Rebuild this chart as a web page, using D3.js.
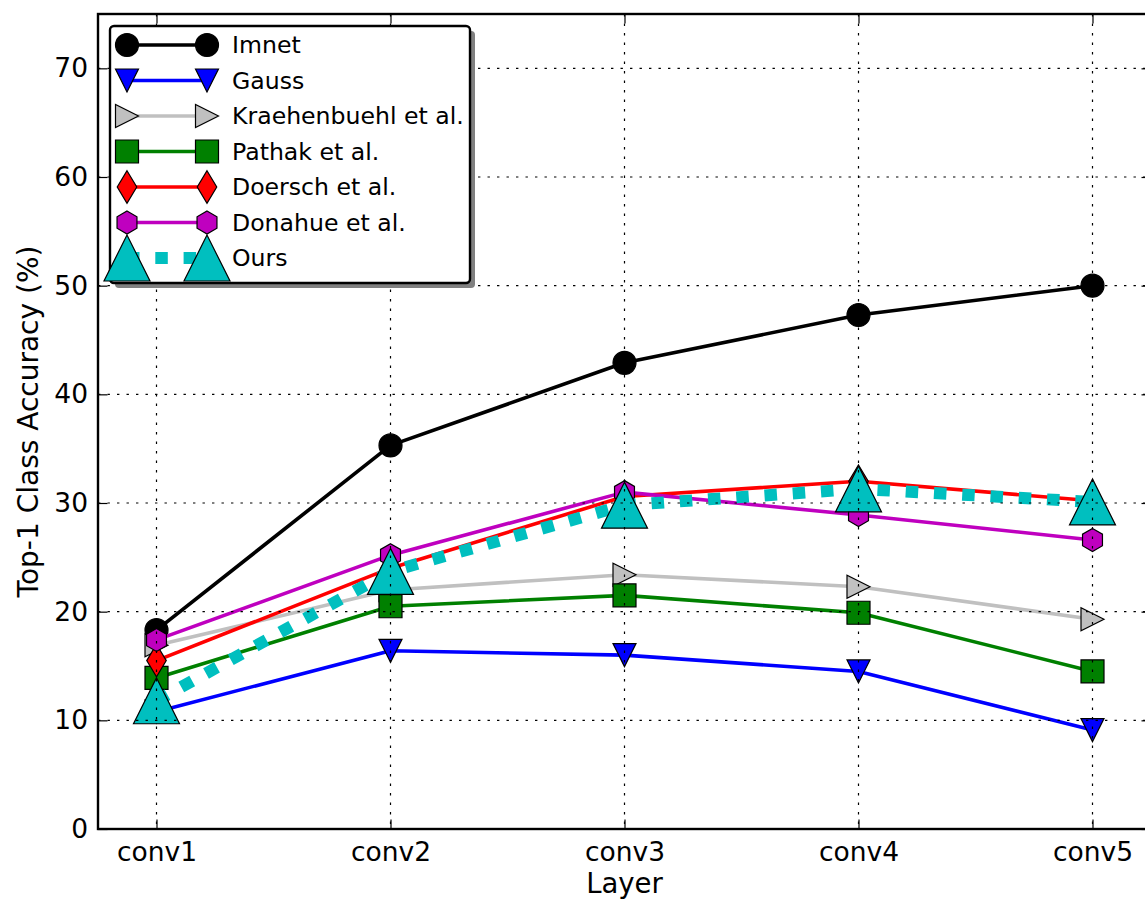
<!DOCTYPE html>
<html>
<head>
<meta charset="utf-8">
<script src="https://cdn.jsdelivr.net/npm/d3@7"></script>
<style>
  body { margin: 0; background: #fff; }
  svg { display: block; font-family: "DejaVu Sans", sans-serif; }
</style>
</head>
<body>
<svg id="chart" width="1145" height="901"></svg>
<script>
// Layers probed and the accuracy (%) of a linear classifier trained on each
const layers = ["conv1", "conv2", "conv3", "conv4", "conv5"];
const yTicks = [0, 10, 20, 30, 40, 50, 60, 70];

const imnet        = [18.3, 35.3, 42.9, 47.3, 50.0];
const gauss        = [10.8, 16.4, 16.0, 14.5, 9.1];
const kraehenbuehl = [16.9, 22.0, 23.4, 22.3, 19.3];
const pathak       = [13.9, 20.5, 21.5, 19.9, 14.5];
const doersch      = [15.5, 24.0, 30.6, 32.0, 30.2];
const donahue      = [17.4, 25.2, 31.0, 28.9, 26.6];
const ours         = [11.8, 23.7, 29.8, 31.3, 30.1];

const seriesNames = ["Imnet", "Gauss", "Kraehenbuehl et al.", "Pathak et al.",
                     "Doersch et al.", "Donahue et al.", "Ours"];
const seriesValues = [imnet, gauss, kraehenbuehl, pathak, doersch, donahue, ours];

// Drawing style for each series (same order as above)
const styles = [
  { color: "#000000", marker: "circle",      size: 23 },
  { color: "#0000ff", marker: "triDown",     size: 23 },
  { color: "#c0c0c0", marker: "triRight",    size: 23 },
  { color: "#008000", marker: "square",      size: 23 },
  { color: "#ff0000", marker: "thinDiamond", size: 23 },
  { color: "#bf00bf", marker: "hexagon",     size: 23 },
  { color: "#00bfbf", marker: "triUp",       size: 46, dotted: true }
];

const series = seriesNames.map((name, i) => ({ name, values: seriesValues[i], style: styles[i] }));

const svg = d3.select("#chart");
const plot = { left: 98, top: 14, right: 1151, bottom: 829 };

const x = d3.scaleLinear().domain([0.75, 5.25]).range([plot.left, plot.right]);
const y = d3.scaleLinear().domain([0, 75]).range([plot.bottom, plot.top]);

function markerPath(type, s) {
  const h = s / 2;
  switch (type) {
    case "circle":
      return `M${h},0A${h},${h} 0 1,1 ${-h},0A${h},${h} 0 1,1 ${h},0Z`;
    case "triUp":
      return `M0,${-h}L${-h},${h}L${h},${h}Z`;
    case "triDown":
      return `M0,${h}L${-h},${-h}L${h},${-h}Z`;
    case "triRight":
      return `M${h},0L${-h},${-h}L${-h},${h}Z`;
    case "square":
      return `M${-h},${-h}H${h}V${h}H${-h}Z`;
    case "thinDiamond": {
      const dh = s * Math.SQRT2 / 2, dw = 0.6 * dh;
      return `M0,${-dh}L${dw},0L0,${dh}L${-dw},0Z`;
    }
    case "hexagon": {
      const pts = d3.range(6).map(k => {
        const a = -Math.PI / 2 + k * Math.PI / 3;
        return [h * Math.cos(a), h * Math.sin(a)];
      });
      return "M" + pts.map(p => p.join(",")).join("L") + "Z";
    }
  }
}

svg.append("defs").append("clipPath").attr("id", "plotClip")
  .append("rect")
  .attr("x", plot.left).attr("y", plot.top)
  .attr("width", plot.right - plot.left).attr("height", plot.bottom - plot.top);

// Series: each line followed by its markers, in plotting order
const dataLayer = svg.append("g").attr("clip-path", "url(#plotClip)");
const line = d3.line().x((d, i) => x(i + 1)).y(d => y(d));

series.forEach(s => {
  const g = dataLayer.append("g");
  g.append("path")
    .attr("d", line(s.values))
    .attr("fill", "none")
    .attr("stroke", s.style.color)
    .attr("stroke-width", s.style.dotted ? 12 : 3.6)
    .attr("stroke-dasharray", s.style.dotted ? "12.5 15.8" : null)
    .attr("stroke-linejoin", "round")
    .attr("stroke-linecap", s.style.dotted ? "butt" : "round");
  g.selectAll("path.mk").data(s.values).join("path")
    .attr("class", "mk")
    .attr("transform", (d, i) => `translate(${x(i + 1)},${y(d)})`)
    .attr("d", markerPath(s.style.marker, s.style.size))
    .attr("fill", s.style.color)
    .attr("stroke", "#000")
    .attr("stroke-width", 1.2)
    .attr("stroke-linejoin", "miter");
});

// Dotted grid drawn over the data
const grid = svg.append("g").attr("stroke", "#000").attr("stroke-width", 1.2)
  .attr("stroke-dasharray", "2.4 7.1");
grid.selectAll("line.gy").data(yTicks).join("line")
  .attr("x1", plot.left).attr("x2", plot.right)
  .attr("y1", d => y(d)).attr("y2", d => y(d));
grid.selectAll("line.gx").data(d3.range(1, layers.length + 1)).join("line")
  .attr("class", "gx")
  .attr("x1", d => x(d)).attr("x2", d => x(d))
  .attr("y1", plot.top).attr("y2", plot.bottom);

// Axes with inward ticks
const yAxis = svg.append("g").attr("transform", `translate(${plot.left},0)`)
  .call(d3.axisLeft(y).tickValues(yTicks).tickSizeInner(-9.5).tickSizeOuter(0).tickPadding(10));
const xAxis = svg.append("g").attr("transform", `translate(0,${plot.bottom})`)
  .call(d3.axisBottom(x).tickValues(d3.range(1, layers.length + 1))
    .tickFormat(i => layers[i - 1]).tickSizeInner(-9.5).tickSizeOuter(0).tickPadding(13));
const topAxis = svg.append("g").attr("transform", `translate(0,${plot.top})`)
  .call(d3.axisTop(x).tickValues(d3.range(1, layers.length + 1))
    .tickFormat("").tickSizeInner(-9.5).tickSizeOuter(0));
const rightAxis = svg.append("g").attr("transform", `translate(${plot.right},0)`)
  .call(d3.axisRight(y).tickValues(yTicks).tickFormat("").tickSizeInner(-9.5).tickSizeOuter(0));

[yAxis, xAxis, topAxis, rightAxis].forEach(a => {
  a.select(".domain").remove();
  a.selectAll(".tick line").attr("stroke", "#000").attr("stroke-width", 1.2);
  a.selectAll(".tick text").attr("fill", "#000").attr("font-size", 26.5)
    .attr("font-family", "DejaVu Sans, sans-serif");
});

// Frame
svg.append("rect")
  .attr("x", plot.left).attr("y", plot.top)
  .attr("width", plot.right - plot.left).attr("height", plot.bottom - plot.top)
  .attr("fill", "none").attr("stroke", "#000").attr("stroke-width", 2.4);

// Axis titles
svg.append("text")
  .attr("x", x(3)).attr("y", 893)
  .attr("text-anchor", "middle").attr("font-size", 27.5).attr("fill", "#000")
  .text("Layer");
svg.append("text")
  .attr("transform", `translate(38,${(plot.top + plot.bottom) / 2}) rotate(-90)`)
  .attr("text-anchor", "middle").attr("font-size", 28).attr("fill", "#000")
  .text("Top-1 Class Accuracy (%)");

// Legend with drop shadow
const legend = { x: 110, y: 26, w: 360, h: 257 };
const lg = svg.append("g");
lg.append("rect")
  .attr("x", legend.x + 5).attr("y", legend.y + 5)
  .attr("width", legend.w).attr("height", legend.h).attr("rx", 4)
  .attr("fill", "#808080");
lg.append("rect")
  .attr("x", legend.x).attr("y", legend.y)
  .attr("width", legend.w).attr("height", legend.h).attr("rx", 4)
  .attr("fill", "#fff").attr("stroke", "#000").attr("stroke-width", 2.4);

const rowY = d3.scaleLinear().domain([0, series.length - 1]).range([45, 258]);
series.forEach((s, i) => {
  const yy = rowY(i);
  const x0 = 127, x1 = 207;
  lg.append("line")
    .attr("x1", x0).attr("x2", x1).attr("y1", yy).attr("y2", yy)
    .attr("stroke", s.style.color)
    .attr("stroke-width", s.style.dotted ? 12 : 3.6)
    .attr("stroke-dasharray", s.style.dotted ? "12.5 15.8" : null);
  [x0, x1].forEach(mx => {
    lg.append("path")
      .attr("transform", `translate(${mx},${yy})`)
      .attr("d", markerPath(s.style.marker, s.style.size))
      .attr("fill", s.style.color)
      .attr("stroke", "#000").attr("stroke-width", 1.2);
  });
  lg.append("text")
    .attr("x", 232).attr("y", yy).attr("dy", "0.36em")
    .attr("font-size", 23.6).attr("fill", "#000")
    .text(s.name);
});
</script>
</body>
</html>
